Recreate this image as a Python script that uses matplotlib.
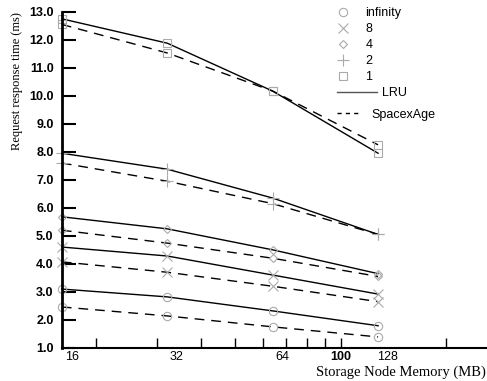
import matplotlib.pyplot as plt
from matplotlib.lines import Line2D
from matplotlib.ticker import NullFormatter, LogLocator

memory = [16, 32, 64, 128]
series = ['infinity', '8', '4', '2', '1']
markers = ['o', 'x', 'D', '+', 's']

lru = {
    'infinity': [3.10, 2.82, 2.32, 1.79],
    '8': [4.60, 4.28, 3.60, 2.92],
    '4': [5.68, 5.25, 4.50, 3.65],
    '2': [7.95, 7.38, 6.35, 5.05],
    '1': [12.75, 11.88, 10.17, 7.95],
}
spacex = {
    'infinity': [2.46, 2.14, 1.75, 1.39],
    '8': [4.07, 3.70, 3.20, 2.65],
    '4': [5.20, 4.74, 4.20, 3.55],
    '2': [7.60, 6.95, 6.15, 5.05],
    '1': [12.55, 11.53, 10.17, 8.25],
}
xlabels = ['16', '32', '64', '128']

fig = plt.figure(figsize=(4.87, 3.81), dpi=100)
ax = fig.add_axes([0.127, 0.087, 0.873, 0.882])
msize = {'o': 6, 'x': 7, 'D': 4, '+': 8, 's': 6}
mcol = '#aaaaaa'
for name, m in zip(series, markers):
    ax.plot(memory, lru[name], color='black', lw=1.0, marker=m, ms=msize[m],
            mfc='none', mec=mcol, mew=0.8, clip_on=False)
    ax.plot(memory, spacex[name], color='black', lw=1.0, ls=(0, (7, 5)), marker=m,
            ms=msize[m], mfc='none', mec=mcol, mew=0.8, clip_on=False)

ax.set_xscale('log')
ax.set_xlim(16, 262)
ax.set_ylim(1.0, 13.0)
ax.set_yticks(range(1, 14))
ax.set_yticklabels(['%.1f' % v for v in range(1, 14)],
                   fontfamily='Liberation Sans', fontweight='bold', fontsize=9)
ax.set_xticks([100])
ax.set_xticklabels(['100'], fontfamily='Liberation Sans', fontweight='bold', fontsize=9)
ax.xaxis.set_minor_locator(LogLocator(base=10, subs=range(2, 10)))
ax.xaxis.set_minor_formatter(NullFormatter())
ax.tick_params(axis='y', direction='in', length=10, width=1.5, pad=6)
ax.tick_params(axis='x', which='both', direction='in', length=7, width=1.0, pad=2)
for x, lab in zip(memory, xlabels):
    ax.annotate(lab, xy=(x, 0), xycoords=('data', 'axes fraction'),
                xytext=(7, -2), textcoords='offset points', ha='center', va='top',
                fontfamily='Liberation Sans', fontsize=9)

ax.spines['top'].set_visible(False)
ax.spines['right'].set_visible(False)
ax.spines['left'].set_linewidth(2.0)
ax.spines['bottom'].set_linewidth(1.5)

ax.set_ylabel('Request response time (ms)', fontfamily='Liberation Serif', fontsize=9,
              loc='top')
fig.text(0.998, 0.04, 'Storage Node Memory (MB)', ha='right', va='top',
         fontfamily='Liberation Serif', fontsize=10.5)

prop = {'family': 'Liberation Sans', 'size': 9}
mhandles = [Line2D([], [], ls='none', marker=m, ms=msize[m], mfc='none', mec=mcol, mew=0.8)
            for m in markers]
leg1 = ax.legend(mhandles, series, loc='upper left', bbox_to_anchor=(0.62, 1.048),
                 frameon=False, handlelength=1.0, handletextpad=1.3, labelspacing=0.33,
                 prop=prop)
ax.add_artist(leg1)
leg2 = ax.legend([Line2D([], [], color='#555555', lw=1.0)], ['LRU'], loc='upper left',
                 bbox_to_anchor=(0.62, 0.81), frameon=False, handlelength=3.2,
                 handletextpad=0.4, prop=prop)
ax.add_artist(leg2)
ax.legend([Line2D([], [], color='black', lw=1.0, ls=(0, (3, 3)))], ['SpacexAge'],
          loc='upper left', bbox_to_anchor=(0.62, 0.745), frameon=False,
          handlelength=2.0, handletextpad=0.8, prop=prop)

fig.savefig('out.png')
